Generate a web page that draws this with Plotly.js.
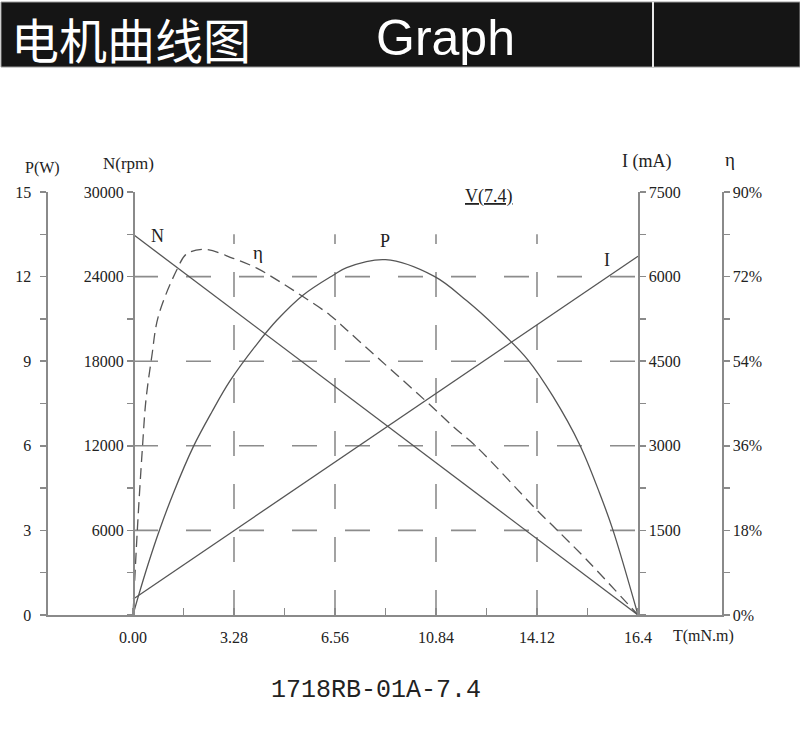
<!DOCTYPE html>
<html><head><meta charset="utf-8">
<script src="https://cdn.plot.ly/plotly-3.0.1.min.js"></script>
<style>html,body{margin:0;padding:0;background:#fff}#chart{width:800px;height:739px}</style>
</head><body><div id="chart"></div>
<script>
// ---- data ----
const torqueEnds = [0, 16.4];
const speedRpm = [27000, 0];
const currentMa = [280, 6360];
const powerTorque = [0, 0.17, 0.49, 0.85, 1.31, 1.96, 2.56, 3.15, 4.02, 4.67, 5.53, 6.5, 6.94, 8.2, 9.8, 10.83, 11.8, 12.83, 13.64, 14.51, 15.16, 15.59, 16.4];
const powerW = [0, 0.65, 1.8, 2.98, 4.32, 5.97, 7.2, 8.3, 9.6, 10.45, 11.35, 12.05, 12.32, 12.6, 12.0, 11.15, 10.2, 9.04, 7.75, 6.03, 4.3, 3.0, 0];
const effTorque = [0, 0.14, 0.31, 0.42, 0.61, 0.82, 1.42, 1.74, 2.34, 3.25, 4.02, 4.77, 5.53, 6.4, 7.05, 8.02, 9.48, 10.45, 11.17, 13.12, 13.77, 14.74, 16.4];
const effPct = [0, 18, 36, 45.7, 55, 63.5, 73.4, 76.8, 77.8, 75.9, 73.8, 70.9, 67.7, 63.8, 60.0, 54.3, 45.7, 39.8, 35.7, 22.3, 18.1, 11.7, 0];

// ---- ticks ----
const xTickVals = [0, 1.64, 3.28, 4.92, 6.56, 8.2, 9.84, 11.48, 13.12, 14.76, 16.4];
const xTickText = ["0.00", "", "3.28", "", "6.56", "", "10.84", "", "14.12", "", "16.4"];
const pTickVals = [0, 1.5, 3, 4.5, 6, 7.5, 9, 10.5, 12, 13.5, 15];
const pTickText = ["0", "", "3", "", "6", "", "9", "", "12", "", "15"];
const nTickVals = [0, 3000, 6000, 9000, 12000, 15000, 18000, 21000, 24000, 27000, 30000];
const nTickText = ["", "", "6000", "", "12000", "", "18000", "", "24000", "", "30000"];
const iTickVals = [0, 750, 1500, 2250, 3000, 3750, 4500, 5250, 6000, 6750, 7500];
const iTickText = ["", "", "1500", "", "3000", "", "4500", "", "6000", "", "7500"];
const effTickVals = [0, 9, 18, 27, 36, 45, 54, 63, 72, 81, 90];
const effTickText = ["0%", "", "18%", "", "36%", "", "54%", "", "72%", "", "90%"];
const gridSpeeds = [6000, 12000, 18000, 24000];
const gridTorques = [3.28, 6.56, 9.84, 13.12];
const gridTopSpeed = 27000;

// ---- layout helpers (pixel -> paper) ----
const L = 48, R = 722, T = 192, B = 615, W = 800, H = 739;
const px = x => (x - L) / (R - L);
const py = y => (B - y) / (B - T);

const axisGray = '#8a8a8a';
const curveColor = '#555555';
const serif = 'Liberation Serif, Times New Roman, serif';
const tickFont = {family: serif, size: 16, color: '#222'};

const traces = [
  {x: torqueEnds, y: speedRpm, yaxis: 'y2', type: 'scatter', mode: 'lines',
   line: {color: curveColor, width: 1.3}, hoverinfo: 'skip', showlegend: false},
  {x: torqueEnds, y: currentMa, yaxis: 'y3', type: 'scatter', mode: 'lines',
   line: {color: curveColor, width: 1.3}, hoverinfo: 'skip', showlegend: false},
  {x: powerTorque, y: powerW, yaxis: 'y', type: 'scatter', mode: 'lines',
   line: {color: curveColor, width: 1.3, shape: 'spline', smoothing: 1}, hoverinfo: 'skip', showlegend: false},
  {x: effTorque, y: effPct, yaxis: 'y4', type: 'scatter', mode: 'lines',
   line: {color: curveColor, width: 1.3, shape: 'spline', smoothing: 1, dash: '11px,6px'}, hoverinfo: 'skip', showlegend: false}
];

const gridLine = {color: '#8c8c8c', width: 1.6, dash: '25px,28px'};
const shapes = [];
gridSpeeds.forEach(s => shapes.push({type: 'line', xref: 'x', yref: 'y2', x0: torqueEnds[0], x1: torqueEnds[1], y0: s, y1: s, line: gridLine, layer: 'below'}));
gridTorques.forEach(t => shapes.push({type: 'line', xref: 'x', yref: 'y2', x0: t, x1: t, y0: 0, y1: gridTopSpeed, line: gridLine, layer: 'below'}));
// header bar
shapes.push({type: 'rect', xref: 'paper', yref: 'paper', x0: px(1), x1: px(800), y0: py(67), y1: py(2),
  fillcolor: '#151515', line: {color: '#9a9a9a', width: 1}});
shapes.push({type: 'line', xref: 'paper', yref: 'paper', x0: px(653), x1: px(653), y0: py(67), y1: py(2),
  line: {color: '#e8e8e8', width: 2}});

const ann = (text, x, y, opts = {}) => Object.assign({
  text, x: px(x), y: py(y), xref: 'paper', yref: 'paper', showarrow: false,
  xanchor: 'center', yanchor: 'middle', font: {family: serif, size: 16, color: '#222'}
}, opts);

const annotations = [
  ann('电机曲线图', 9, 38, {xanchor: 'left', font: {family: 'Noto Sans CJK SC', size: 48, color: '#fff'}}),
  ann('Graph', 374, 38, {xanchor: 'left', font: {family: 'Liberation Sans, Arial, sans-serif', size: 50, color: '#fff'}}),
  ann('P(W)', 42, 168),
  ann('N(rpm)', 128, 163, {font: {family: serif, size: 17, color: '#222'}}),
  ann('I (mA)', 646, 162, {font: {family: serif, size: 18, color: '#222'}}),
  ann('η', 730, 160, {font: {family: serif, size: 19, color: '#222'}}),
  ann('T(mN.m)', 671, 636, {xanchor: 'left'}),
  ann('N', 157, 236, {font: {family: serif, size: 18, color: '#222'}}),
  ann('η', 258, 252, {font: {family: serif, size: 19, color: '#222'}}),
  ann('P', 385, 241, {font: {family: serif, size: 18, color: '#222'}}),
  ann('I', 607, 260, {font: {family: serif, size: 18, color: '#222'}}),
  ann('<u>V(7.4)</u>', 489, 196, {font: {family: serif, size: 18, color: '#222'}}),
  ann('1718RB-01A-7.4', 376, 690, {font: {family: 'Liberation Mono, monospace', size: 25, color: '#222'}})
];

const yBase = {
  showline: true, linecolor: axisGray, linewidth: 1.6, ticks: 'outside', ticklen: 6,
  tickcolor: axisGray, tickwidth: 1.5, showgrid: false, zeroline: false, tickfont: tickFont,
  fixedrange: true, tickmode: 'array'
};

const layout = {
  width: W, height: H, paper_bgcolor: '#fff', plot_bgcolor: '#fff',
  margin: {l: L, r: W - R, t: T, b: H - B, pad: 0},
  showlegend: false,
  xaxis: {range: [-(133 - L) / (505 / 16.4), 16.4 + (R - 638) / (505 / 16.4)], showline: true, linecolor: axisGray,
    linewidth: 1.6, ticks: 'inside', ticklen: 7, tickcolor: axisGray, tickwidth: 1.5, tickmode: 'array',
    tickvals: xTickVals, ticktext: xTickText, showgrid: false, zeroline: false, tickfont: tickFont,
    ticklabelstandoff: 7, fixedrange: true, anchor: 'y'},
  yaxis: Object.assign({}, yBase, {range: [0, 15], side: 'left', anchor: 'x', tickvals: pTickVals, ticktext: pTickText, ticklabelstandoff: 6}),
  yaxis2: Object.assign({}, yBase, {range: [0, 30000], side: 'left', overlaying: 'y', anchor: 'free', position: px(133), tickvals: nTickVals, ticktext: nTickText}),
  yaxis3: Object.assign({}, yBase, {range: [0, 7500], side: 'right', overlaying: 'y', anchor: 'free', position: px(638), tickvals: iTickVals, ticktext: iTickText}),
  yaxis4: Object.assign({}, yBase, {range: [0, 90], side: 'right', overlaying: 'y', anchor: 'x', tickvals: effTickVals, ticktext: effTickText}),
  shapes, annotations
};

Plotly.newPlot('chart', traces, layout, {displayModeBar: false, staticPlot: true});
</script>
</body></html>
